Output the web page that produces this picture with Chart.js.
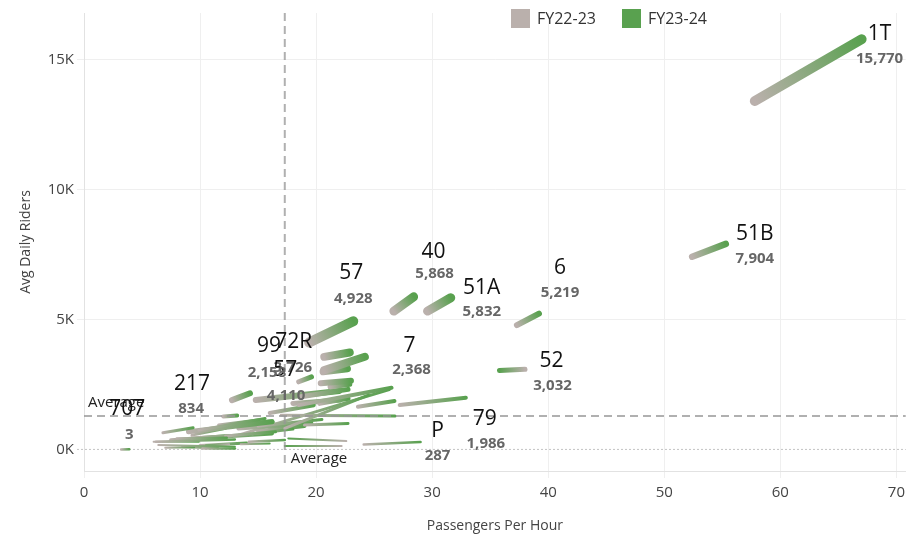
<!DOCTYPE html>
<html><head><meta charset="utf-8">
<script src="https://cdn.jsdelivr.net/npm/chart.js@4/dist/chart.umd.min.js"></script>
<style>html,body{margin:0;padding:0;background:#fff}canvas{display:block}</style>
</head><body>
<canvas id="c" width="911" height="537"></canvas>
<script>
// ---------- DATA ----------
const seriesNames = ['FY22-23', 'FY23-24'];
const routes = ['1T','51B','6','52','40','51A','57','72R','99','7','217','707','P','79',
  'u1','u2','u3','u4','u5','u6','u7','u8','u9','u10','u11','u12','u13','u14','u15','u16','u17','u18','u19','u20',
  'u21','u22','u23','u24','u25','u26','u27','u28','u29','u30','u31','u32',
  'u33','u34','u35','u36','u37','u38','u39','u40','u41'];
const pphFY2223 = [57.8, 52.4, 37.3, 38.0, 26.7, 29.6, 19.4, 20.7, 12.75, 18.5, 6.8, 3.2, 24.1, 27.2,
  20.7, 20.6, 20.4, 21.2, 18.7, 18.5, 20.3, 23.6, 17.3, 17.0, 12.0, 9.9, 9.0, 11.6, 9.3, 6.2, 6.0, 6.4,
  8.0, 10.2, 14.2, 22.6, 22.2, 19.0, 12.2, 15.0, 13.5, 7.0, 12.5, 16.0, 14.5, 14.8,
  11.9, 13.3, 9.3, 13.3, 7.5, 15.0, 18.0, 10.0, 8.5];
const ridersFY2223 = [13396, 7408, 4781, 3080, 5319, 5319, 4110, 3560, 1896, 1704, 640, 0, 190, 1704,
  3050, 2985, 2540, 2400, 2023, 2600, 1769, 1638, 808, 1310, 1270, 742, 677, 935, 550, 292, 292, 165,
  423, 38, 292, 319, 127, 935, 512, 900, 200, 60, 200, 1400, 600, 1900,
  870, 808, 423, 550, 350, 700, 1769, 150, 100];
const pphFY2324 = [67.0, 55.3, 39.2, 35.8, 28.4, 31.6, 23.2, 22.9, 14.3, 26.5, 9.4, 3.9, 29.0, 32.9,
  24.2, 22.7, 23.0, 22.9, 22.75, 19.6, 22.75, 26.75, 24.5, 26.8, 13.2, 15.6, 16.2, 15.0, 12.2, 13.0, 9.9, 13.0,
  12.3, 13.0, 17.3, 17.6, 17.3, 22.75, 16.5, 20.5, 16.0, 9.5, 10.5, 19.8, 18.0, 22.0,
  16.2, 19.6, 16.2, 26.3, 12.5, 19.0, 22.0, 14.0, 11.5];
const ridersFY2324 = [15770, 7904, 5219, 3032, 5868, 5832, 4928, 3726, 2158, 2368, 834, 3, 287, 1986,
  3562, 3100, 2640, 2500, 2308, 2790, 1962, 1858, 2088, 1280, 1300, 1192, 1062, 1127, 808, 385, 292, 100,
  446, 38, 358, 423, 127, 1000, 677, 1150, 230, 80, 150, 1700, 780, 2250,
  1062, 1000, 615, 2300, 520, 900, 1896, 250, 60];
const xTickValues = [0, 10, 20, 30, 40, 50, 60, 70];
const yTickValues = [0, 5000, 10000, 15000];
const avgPPH = 17.3;
const avgRiders = 1281;

// ---------- STYLE ----------
const GRAY = '#bab0ac', GREEN = '#59a14f';
const FONT = '"Open Sans", "Noto Sans", sans-serif';
const strokeWidths = [10, 6.5, 6, 5, 9, 9, 10, 8, 6, 4, 3, 2.5, 2.5, 4,
  8, 7, 6, 5, 5, 5, 5, 4, 3, 3, 4, 3, 5, 3, 3, 2.5, 2, 2,
  2.5, 2.5, 2.5, 2, 2, 3, 3, 3, 2, 2, 2, 4, 3, 6,
  5, 4, 4, 3, 4, 4, 5, 3, 3];
// label placement: offsets from the mark's end (at:1) or start (at:0)
const labelLayout = [
  {route:'1T', at:1, name:[18,-5], value:[18,19]},
  {route:'51B', at:1, name:[29,-10], value:[29,15]},
  {route:'6', at:1, name:[21,-46], value:[21,-21]},
  {route:'52', at:1, name:[52,-10], value:[53,15]},
  {route:'40', at:1, name:[20,-45], value:[21,-23]},
  {route:'51A', at:1, name:[31,-10], value:[31,14]},
  {route:'57', at:1, name:[-2,-48], value:[0,-23]},
  {route:'72R', at:1, name:[-56,-10], value:[-57,15]},
  {route:'57', at:0, name:[-24,27], value:[-23,53]},
  {route:'99', at:1, name:[19,-47], value:[17,-21]},
  {route:'7', at:1, name:[18,-42], value:[20,-18]},
  {route:'217', at:1, name:[-1,-44], value:[-2,-19]},
  {route:'707', at:1, name:[-2,-40], value:[0,-15]},
  {route:'P', at:1, name:[17,-11], value:[17,14]},
  {route:'79', at:1, name:[19,21], value:[20,46]}
];

function gradientFor(ctx) {
  const chart = ctx.chart;
  const xs = chart.scales.x, ys = chart.scales.y;
  const ds = ctx.dataset;
  if (!xs || !ys || !chart.chartArea || !ds) return GREEN;
  const x0 = xs.getPixelForValue(ds.data[0].x), y0 = ys.getPixelForValue(ds.data[0].y);
  const x1 = xs.getPixelForValue(ds.data[1].x), y1 = ys.getPixelForValue(ds.data[1].y);
  if (![x0, y0, x1, y1].every(Number.isFinite)) return GREEN;
  const g = chart.ctx.createLinearGradient(x0, y0, x1, y1);
  g.addColorStop(0, GRAY);
  g.addColorStop(1, GREEN);
  return g;
}

const datasets = routes.map((r, i) => ({
  label: r,
  data: [{x: pphFY2223[i], y: ridersFY2223[i]}, {x: pphFY2324[i], y: ridersFY2324[i]}],
  borderColor: gradientFor,
  borderWidth: strokeWidths[i],
  borderCapStyle: 'round',
  pointRadius: 0,
  pointHoverRadius: 0,
  fill: false,
  tension: 0
}));

const fmt = v => Math.round(v).toLocaleString('en-US');

const overlay = {
  id: 'overlay',
  beforeDatasetsDraw(chart) {
    const {ctx, chartArea: a, scales: {y}} = chart;
    const y0 = y.getPixelForValue(0);
    ctx.save();
    ctx.strokeStyle = '#c4c4c4';
    ctx.lineWidth = 1;
    ctx.setLineDash([2, 2]);
    ctx.beginPath(); ctx.moveTo(a.left - 7, y0); ctx.lineTo(a.right, y0); ctx.stroke();
    ctx.restore();
  },
  afterDatasetsDraw(chart) {
    const {ctx, chartArea: a, scales: {x, y}} = chart;
    ctx.save();
    // average reference lines
    ctx.strokeStyle = 'rgba(150,150,150,0.75)';
    ctx.lineWidth = 2;
    ctx.setLineDash([8, 5]);
    const ax = x.getPixelForValue(avgPPH), ay = y.getPixelForValue(avgRiders);
    ctx.beginPath(); ctx.moveTo(a.left, ay); ctx.lineTo(a.right, ay); ctx.stroke();
    ctx.beginPath(); ctx.moveTo(ax, a.top); ctx.lineTo(ax, a.bottom - 3); ctx.stroke();
    ctx.setLineDash([]);
    ctx.fillStyle = '#222';
    ctx.font = '15px ' + FONT;
    ctx.textAlign = 'left'; ctx.textBaseline = 'middle';
    ctx.fillText('Average', a.left + 4, ay - 13);
    ctx.fillText('Average', ax + 6, a.bottom - 12);
    // route labels
    ctx.textAlign = 'center';
    labelLayout.forEach(L => {
      const i = routes.indexOf(L.route);
      const px = L.at ? pphFY2324[i] : pphFY2223[i];
      const py = L.at ? ridersFY2324[i] : ridersFY2223[i];
      const cx = x.getPixelForValue(px), cy = y.getPixelForValue(py);
      ctx.fillStyle = '#111';
      ctx.font = '21px ' + FONT;
      ctx.fillText(L.route, cx + L.name[0], cy + L.name[1]);
      ctx.fillStyle = '#666';
      ctx.font = 'bold 15px ' + FONT;
      ctx.fillText(fmt(py), cx + L.value[0], cy + L.value[1]);
    });
    ctx.restore();
  },
  afterDraw(chart) {
    const ctx = chart.ctx;
    ctx.save();
    ctx.font = '16px ' + FONT;
    ctx.textBaseline = 'middle'; ctx.textAlign = 'left';
    const items = [[GRAY, 511, 537], [GREEN, 622, 648]];
    items.forEach((it, k) => {
      ctx.fillStyle = it[0];
      ctx.fillRect(it[1], 9, 19, 19);
      ctx.fillStyle = '#333';
      ctx.fillText(seriesNames[k], it[2], 19);
    });
    ctx.restore();
  }
};

new Chart(document.getElementById('c'), {
  type: 'line',
  data: {datasets},
  options: {
    responsive: false,
    animation: false,
    devicePixelRatio: 1,
    layout: {padding: {top: 13, right: 0, left: 0, bottom: 0}},
    plugins: {legend: {display: false}, tooltip: {enabled: false}},
    scales: {
      x: {
        type: 'linear', min: 0, max: 70.8,
        afterBuildTicks: s => { s.ticks = xTickValues.map(v => ({value: v})); },
        afterFit: s => { s.height = 66; },
        grid: {color: '#efefef', tickLength: 7},
        border: {color: '#e2e2e2'},
        ticks: {color: '#444', font: {family: FONT, size: 15}, padding: 6},
        title: {display: true, text: 'Passengers Per Hour', color: '#444', font: {family: FONT, size: 14}, padding: {top: 0, bottom: 3}}
      },
      y: {
        type: 'linear', min: -830, max: 16780,
        afterBuildTicks: s => { s.ticks = yTickValues.map(v => ({value: v})); },
        afterFit: s => { s.width = 84; },
        grid: {color: c => (c.tick && c.tick.value === 0) ? 'rgba(0,0,0,0)' : '#efefef', tickLength: 7},
        border: {color: '#e2e2e2'},
        ticks: {color: '#444', font: {family: FONT, size: 15}, padding: 3, callback: v => (v / 1000) + 'K'},
        title: {display: true, text: 'Avg Daily Riders', color: '#444', font: {family: FONT, size: 14}, padding: {top: 18, bottom: 0}}
      }
    }
  },
  plugins: [overlay]
});
</script>
</body></html>
